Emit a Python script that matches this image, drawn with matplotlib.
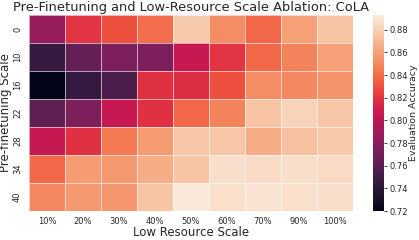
import matplotlib
matplotlib.use("Agg")
import matplotlib.pyplot as plt
import numpy as np
import seaborn as sns

# escalas de pre-finetuning (filas) y de bajo recurso (columnas)
pre_scales = ["0", "10", "16", "22", "28", "34", "40"]
low_resource = ["10%", "20%", "30%", "40%", "50%", "60%", "70%", "90%", "100%"]

acc_0 = [0.785, 0.820, 0.830, 0.840, 0.878, 0.852, 0.838, 0.860, 0.875]
acc_10 = [0.745, 0.765, 0.775, 0.775, 0.805, 0.820, 0.838, 0.848, 0.860]
acc_16 = [0.720, 0.745, 0.755, 0.818, 0.817, 0.830, 0.852, 0.850, 0.855]
acc_22 = [0.762, 0.775, 0.805, 0.818, 0.838, 0.848, 0.875, 0.882, 0.876]
acc_28 = [0.805, 0.818, 0.845, 0.858, 0.876, 0.876, 0.865, 0.874, 0.878]
acc_34 = [0.838, 0.858, 0.857, 0.865, 0.875, 0.887, 0.886, 0.887, 0.885]
acc_40 = [0.850, 0.857, 0.856, 0.875, 0.892, 0.888, 0.889, 0.888, 0.887]

datos = np.array([acc_0, acc_10, acc_16, acc_22, acc_28, acc_34, acc_40])

sns.set_theme(style="white")
plt.rcParams['font.family'] = ['DejaVu Sans']

fig = plt.figure(figsize=(4.19, 2.4), dpi=100)
ax = fig.add_axes([0.0692, 0.1208, 0.773, 0.8167])
cax = fig.add_axes([0.891, 0.1208, 0.0263, 0.8167])

sns.heatmap(datos, ax=ax, cbar_ax=cax, cmap="rocket", vmin=0.72, vmax=0.893,
            linewidths=0.6, linecolor=(1, 1, 1, 0.6),
            xticklabels=low_resource, yticklabels=pre_scales,
            cbar_kws={"label": "Evaluation Accuracy"})

ax.set_title("Pre-Finetuning and Low-Resource Scale Ablation: CoLA", fontsize=9.4, pad=3)
ax.set_xlabel("Low Resource Scale", fontsize=8.5, labelpad=0)
ax.set_ylabel("Pre-finetuning Scale", fontsize=8.5, labelpad=1)
ax.tick_params(axis="both", length=0, labelsize=6)
ax.tick_params(axis="x", rotation=0, pad=4.5)
ax.tick_params(axis="y", rotation=90, pad=5)

cax.tick_params(labelsize=6, length=2.5, width=0.6, pad=1)
cax.set_yticks([0.72, 0.74, 0.76, 0.78, 0.80, 0.82, 0.84, 0.86, 0.88])
cax.set_ylabel("Evaluation Accuracy", fontsize=6.8, labelpad=1)

fig.savefig("out.png", dpi=100)
